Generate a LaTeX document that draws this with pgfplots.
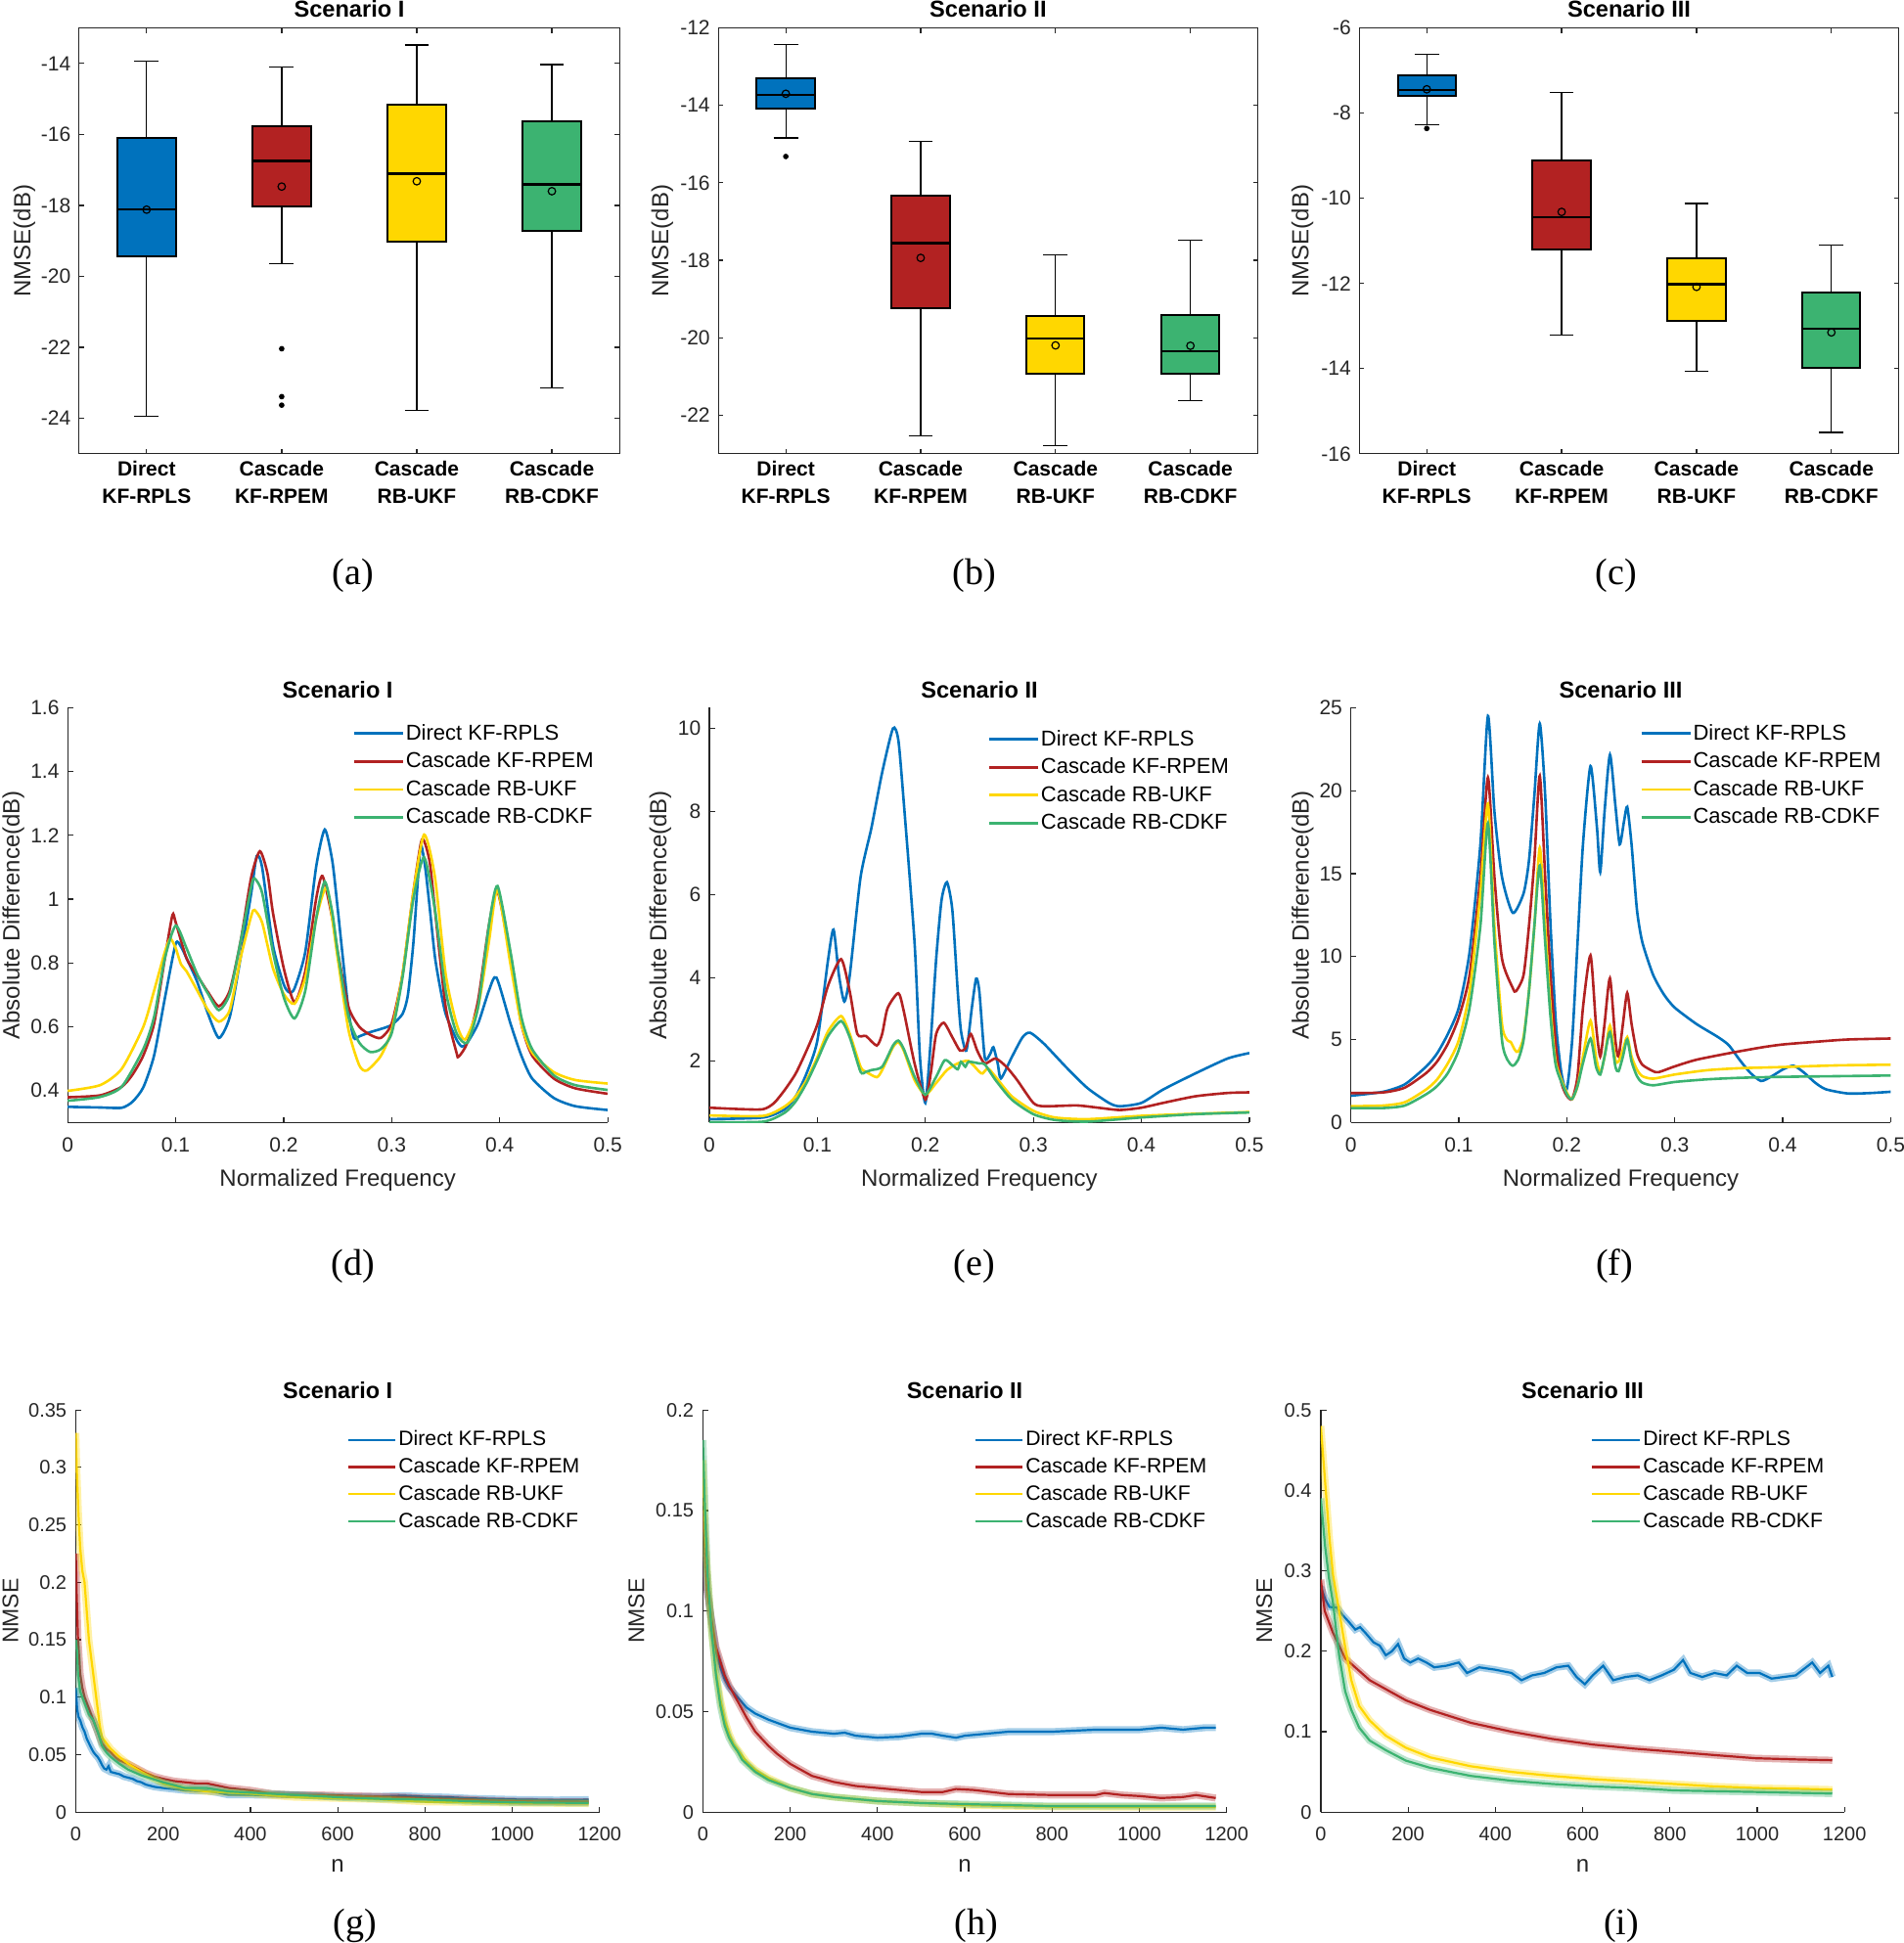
\documentclass[border=0pt]{standalone}
\usepackage{pgfplots}
\pgfplotsset{compat=1.18}
\usepgfplotslibrary{statistics}
\usepackage{fontspec}
\setmainfont{Liberation Sans}
\newfontfamily\timesfont{Liberation Serif}
\definecolor{cblue}{RGB}{0,114,189}
\definecolor{cred}{RGB}{178,34,34}
\definecolor{cyel}{RGB}{255,215,0}
\definecolor{cgrn}{RGB}{60,179,113}
\definecolor{axgray}{RGB}{38,38,38}
\pgfplotsset{
 common/.style={scale only axis, anchor=south west, tick align=inside, scaled ticks=false,
   every axis title shift=0pt,
   axis line style={draw=axgray, line width=0.6pt},
   every tick/.style={draw=axgray, line width=0.6pt},
   tick label style={text=axgray}},
 boxax/.style={common, boxplot/draw direction=y, height=217.6pt, xmin=0.5, xmax=4.5, xtick={1,2,3,4},
   xticklabels={{Direct\\KF-RPLS},{Cascade\\KF-RPEM},{Cascade\\RB-UKF},{Cascade\\RB-CDKF}},
   tick pos=both, major tick length=2.5pt,
   xticklabel style={font=\bfseries\fontsize{10.5}{13.8}\selectfont, align=center, anchor=north, inner sep=0pt, yshift=-3.5pt, text=black},
   yticklabel style={font=\fontsize{10.5}{12}\selectfont, anchor=east, inner sep=0pt, xshift=-4.1pt},
   title style={at={(axis description cs:0.5,1)}, anchor=base, yshift=5.7pt, font=\bfseries\fontsize{11.8}{14}\selectfont},
   ylabel={NMSE(dB)}, ylabel style={font=\fontsize{12}{14}\selectfont, text=axgray}},
 bx/.style={draw=black, line width=0.6pt,
   boxplot/every box/.style={draw=black, fill=#1, line width=1pt},
   boxplot/every median/.style={draw=black, line width=1.2pt},
   boxplot/every whisker/.style={draw=black, line width=0.6pt},
   mark=*, mark size=1.1pt, mark options={fill=black, draw=black}},
 meanm/.style={only marks, mark=o, mark size=1.9pt, mark options={draw=black, line width=0.6pt}},
 lineax/.style={common, width=275.95pt, height=212pt,
   axis x line*=bottom, axis y line*=left, axis line style={-},
   xmin=0, xmax=0.5, xtick={0,0.1,0.2,0.3,0.4,0.5}, xticklabels={0,0.1,0.2,0.3,0.4,0.5},
   major tick length=2.8pt,
   xticklabel style={font=\fontsize{10.5}{12}\selectfont, anchor=base, inner sep=0pt, yshift=-15pt},
   yticklabel style={font=\fontsize{10.5}{12}\selectfont, anchor=east, inner sep=0pt, xshift=-4.15pt},
   title style={at={(axis description cs:0.5,1)}, anchor=base, yshift=5pt, font=\bfseries\fontsize{11.8}{14}\selectfont},
   xlabel={Normalized Frequency},
   xlabel style={at={(axis description cs:0.5,0)}, anchor=base, yshift=-32.4pt, font=\fontsize{12}{14}\selectfont, text=axgray},
   ylabel={Absolute Difference(dB)}, ylabel style={font=\fontsize{12}{14}\selectfont, text=axgray},
   legend cell align=left,
   legend image code/.code={\draw[##1] (0pt,0pt) -- (25pt,0pt);},
   legend style={anchor=north west, draw=none, fill=none, inner sep=0pt, outer sep=0pt, row sep=4.8pt,
     font=\fontsize{11}{13}\selectfont, nodes={inner sep=0pt},
     /tikz/every odd column/.append style={column sep=0.8pt}}},
 ln/.style={#1, line width=1.3pt, smooth, tension=0.4},
 nmax/.style={common, width=267.65pt, height=205.55pt,
   axis x line*=bottom, axis y line*=left, axis line style={-},
   xmin=0, xmax=1200, xtick={0,200,400,600,800,1000,1200}, xticklabels={0,200,400,600,800,1000,1200},
   major tick length=2.8pt,
   xticklabel style={font=\fontsize{10}{12}\selectfont, anchor=base, inner sep=0pt, yshift=-14.6pt},
   yticklabel style={font=\fontsize{10}{12}\selectfont, anchor=east, inner sep=0pt, xshift=-4.5pt},
   title style={at={(axis description cs:0.5,1)}, anchor=base, yshift=5.6pt, font=\bfseries\fontsize{11.7}{14}\selectfont},
   xlabel={n},
   xlabel style={at={(axis description cs:0.5,0)}, anchor=base, yshift=-30.8pt, font=\fontsize{12}{14}\selectfont, text=axgray},
   ylabel={NMSE}, ylabel style={font=\fontsize{11.5}{14}\selectfont, text=axgray},
   legend cell align=left,
   legend image code/.code={\draw[##1] (0pt,0pt) -- (24.25pt,0pt);},
   legend style={anchor=north west, draw=none, fill=none, inner sep=0pt, outer sep=0pt, row sep=4.7pt,
     font=\fontsize{10.6}{13}\selectfont, nodes={inner sep=0pt},
     /tikz/every odd column/.append style={column sep=1.1pt}}},
 band/.style={#1, line width=3.6pt, draw opacity=0.35, forget plot},
 nl/.style={#1, line width=1.1pt},
}
\begin{document}
\begin{tikzpicture}
\useasboundingbox (0,0) rectangle (973pt,-993pt);

% ---------------- (a)
\begin{axis}[boxax, at={(40.4pt,-231.9pt)}, width=276.15pt, ymin=-25, ymax=-13,
  ytick={-24,-22,-20,-18,-16,-14}, yticklabels={-24,-22,-20,-18,-16,-14},
  title={Scenario I}, ylabel style={at={(axis description cs:-0.090,0.5)}, anchor=base}]
\addplot[bx=cblue, boxplot prepared={lower whisker=-23.95, lower quartile=-19.43, median=-18.12, upper quartile=-16.10, upper whisker=-13.94, draw position=1, box extend=0.43, whisker extend=0.18}] coordinates {};
\addplot[bx=cred, boxplot prepared={lower whisker=-19.65, lower quartile=-18.04, median=-16.75, upper quartile=-15.78, upper whisker=-14.10, draw position=2, box extend=0.43, whisker extend=0.18}] coordinates {(2,-22.04) (2,-23.39) (2,-23.63)};
\addplot[bx=cyel, boxplot prepared={lower whisker=-23.78, lower quartile=-19.03, median=-17.11, upper quartile=-15.16, upper whisker=-13.48, draw position=3, box extend=0.43, whisker extend=0.18}] coordinates {};
\addplot[bx=cgrn, boxplot prepared={lower whisker=-23.14, lower quartile=-18.71, median=-17.41, upper quartile=-15.62, upper whisker=-14.03, draw position=4, box extend=0.43, whisker extend=0.18}] coordinates {};
\addplot[meanm] coordinates {(1,-18.12) (2,-17.47) (3,-17.32) (4,-17.60)};
\end{axis}

% ---------------- (b)
\begin{axis}[boxax, at={(367.1pt,-231.9pt)}, width=275.7pt, ymin=-23, ymax=-12,
  ytick={-22,-20,-18,-16,-14,-12}, yticklabels={-22,-20,-18,-16,-14,-12},
  title={Scenario II}, ylabel style={at={(axis description cs:-0.0925,0.5)}, anchor=base}]
\addplot[bx=cblue, boxplot prepared={lower whisker=-14.84, lower quartile=-14.08, median=-13.73, upper quartile=-13.29, upper whisker=-12.42, draw position=1, box extend=0.43, whisker extend=0.18}] coordinates {(1,-15.32)};
\addplot[bx=cred, boxplot prepared={lower whisker=-22.53, lower quartile=-19.24, median=-17.56, upper quartile=-16.34, upper whisker=-14.92, draw position=2, box extend=0.43, whisker extend=0.18}] coordinates {};
\addplot[bx=cyel, boxplot prepared={lower whisker=-22.78, lower quartile=-20.92, median=-20.02, upper quartile=-19.43, upper whisker=-17.87, draw position=3, box extend=0.43, whisker extend=0.18}] coordinates {};
\addplot[bx=cgrn, boxplot prepared={lower whisker=-21.62, lower quartile=-20.94, median=-20.35, upper quartile=-19.42, upper whisker=-17.49, draw position=4, box extend=0.43, whisker extend=0.18}] coordinates {};
\addplot[meanm] coordinates {(1,-13.70) (2,-17.94) (3,-20.20) (4,-20.21)};
\end{axis}

% ---------------- (c)
\begin{axis}[boxax, at={(694.65pt,-231.9pt)}, width=275.7pt, ymin=-16, ymax=-6,
  ytick={-16,-14,-12,-10,-8,-6}, yticklabels={-16,-14,-12,-10,-8,-6},
  title={Scenario III}, ylabel style={at={(axis description cs:-0.094,0.5)}, anchor=base}]
\addplot[bx=cblue, boxplot prepared={lower whisker=-8.27, lower quartile=-7.60, median=-7.45, upper quartile=-7.12, upper whisker=-6.61, draw position=1, box extend=0.43, whisker extend=0.18}] coordinates {(1,-8.36)};
\addplot[bx=cred, boxplot prepared={lower whisker=-13.22, lower quartile=-11.21, median=-10.45, upper quartile=-9.12, upper whisker=-7.52, draw position=2, box extend=0.43, whisker extend=0.18}] coordinates {};
\addplot[bx=cyel, boxplot prepared={lower whisker=-14.06, lower quartile=-12.87, median=-12.02, upper quartile=-11.41, upper whisker=-10.12, draw position=3, box extend=0.43, whisker extend=0.18}] coordinates {};
\addplot[bx=cgrn, boxplot prepared={lower whisker=-15.50, lower quartile=-13.98, median=-13.06, upper quartile=-12.21, upper whisker=-11.09, draw position=4, box extend=0.43, whisker extend=0.18}] coordinates {};
\addplot[meanm] coordinates {(1,-7.44) (2,-10.32) (3,-12.08) (4,-13.15)};
\end{axis}

% ---------------- (d)
\begin{axis}[lineax, at={(34.6pt,-573.65pt)}, ymin=0.3, ymax=1.6,
  ytick={0.4,0.6,0.8,1,1.2,1.4,1.6}, yticklabels={0.4,0.6,0.8,1,1.2,1.4,1.6},
  title={Scenario I}, ylabel style={at={(axis description cs:-0.0893,0.5)}, anchor=base},
  legend style={at={(axis description cs:0.528,0.960)}}]
\addplot[ln=cblue] coordinates {(0,0.349)(0.03,0.347)(0.05,0.346)(0.06,0.365)(0.07,0.41)(0.08,0.51)(0.09,0.69)(0.1,0.86)(0.105,0.85)(0.11,0.815)(0.12,0.74)(0.13,0.64)(0.14,0.565)(0.15,0.63)(0.16,0.815)(0.17,1.02)(0.175,1.135)(0.18,1.10)(0.19,0.856)(0.2,0.733)(0.205,0.708)(0.21,0.72)(0.22,0.835)(0.23,1.10)(0.238,1.218)(0.245,1.12)(0.25,0.97)(0.26,0.652)(0.265,0.565)(0.27,0.57)(0.28,0.583)(0.29,0.593)(0.3,0.606)(0.31,0.64)(0.315,0.70)(0.32,0.86)(0.324,1.05)(0.327,1.17)(0.331,1.10)(0.335,0.98)(0.34,0.82)(0.345,0.72)(0.35,0.64)(0.36,0.56)(0.365,0.538)(0.37,0.55)(0.38,0.61)(0.39,0.713)(0.397,0.754)(0.41,0.61)(0.42,0.51)(0.43,0.438)(0.45,0.377)(0.47,0.351)(0.5,0.339)};
\addlegendentry{Direct KF-RPLS}
\addplot[ln=cred] coordinates {(0,0.379)(0.03,0.385)(0.05,0.412)(0.06,0.45)(0.07,0.51)(0.08,0.61)(0.09,0.815)(0.097,0.95)(0.1,0.927)(0.11,0.815)(0.12,0.76)(0.13,0.708)(0.14,0.664)(0.15,0.713)(0.16,0.866)(0.17,1.07)(0.178,1.15)(0.185,1.08)(0.19,0.958)(0.2,0.784)(0.21,0.677)(0.22,0.774)(0.23,1.0)(0.236,1.072)(0.245,0.94)(0.25,0.835)(0.26,0.662)(0.27,0.6)(0.28,0.575)(0.29,0.565)(0.3,0.61)(0.31,0.764)(0.32,1.02)(0.328,1.187)(0.335,1.12)(0.34,0.968)(0.35,0.662)(0.36,0.519)(0.362,0.506)(0.37,0.55)(0.38,0.683)(0.39,0.917)(0.398,1.024)(0.41,0.815)(0.42,0.61)(0.43,0.51)(0.45,0.438)(0.47,0.407)(0.5,0.39)};
\addlegendentry{Cascade KF-RPEM}
\addplot[ln=cyel] coordinates {(0,0.399)(0.03,0.417)(0.05,0.468)(0.07,0.6)(0.08,0.713)(0.09,0.835)(0.095,0.876)(0.1,0.846)(0.105,0.795)(0.11,0.774)(0.12,0.713)(0.13,0.652)(0.14,0.616)(0.15,0.652)(0.16,0.815)(0.17,0.948)(0.173,0.966)(0.18,0.927)(0.19,0.784)(0.2,0.703)(0.21,0.672)(0.22,0.754)(0.23,0.937)(0.24,1.034)(0.25,0.815)(0.26,0.59)(0.27,0.479)(0.277,0.463)(0.29,0.509)(0.3,0.59)(0.31,0.764)(0.32,1.02)(0.33,1.202)(0.34,1.07)(0.35,0.764)(0.36,0.61)(0.368,0.56)(0.38,0.662)(0.39,0.866)(0.398,1.03)(0.41,0.795)(0.42,0.61)(0.43,0.519)(0.45,0.458)(0.47,0.433)(0.5,0.422)};
\addlegendentry{Cascade RB-UKF}
\addplot[ln=cgrn] coordinates {(0,0.368)(0.03,0.38)(0.05,0.412)(0.07,0.53)(0.08,0.631)(0.09,0.815)(0.1,0.917)(0.11,0.846)(0.12,0.764)(0.13,0.703)(0.14,0.652)(0.15,0.703)(0.16,0.866)(0.17,1.04)(0.173,1.065)(0.18,1.02)(0.19,0.835)(0.2,0.693)(0.21,0.626)(0.22,0.713)(0.23,0.937)(0.238,1.055)(0.245,0.958)(0.25,0.835)(0.26,0.631)(0.27,0.55)(0.28,0.521)(0.29,0.53)(0.3,0.58)(0.31,0.754)(0.32,0.999)(0.33,1.131)(0.34,0.968)(0.35,0.713)(0.36,0.58)(0.37,0.55)(0.38,0.662)(0.39,0.917)(0.398,1.041)(0.41,0.835)(0.42,0.631)(0.43,0.53)(0.45,0.448)(0.47,0.417)(0.5,0.402)};
\addlegendentry{Cascade RB-CDKF}
\end{axis}

% ---------------- (e)
\begin{axis}[lineax, at={(362.5pt,-573.65pt)}, ymin=0.52, ymax=10.5,
  ytick={2,4,6,8,10}, yticklabels={2,4,6,8,10},
  title={Scenario II}, ylabel style={at={(axis description cs:-0.0795,0.5)}, anchor=base},
  legend style={at={(axis description cs:0.516,0.946)}}]
\addplot[ln=cblue] coordinates {(0,0.6)(0.05,0.64)(0.07,0.84)(0.08,1.15)(0.09,1.7)(0.1,2.49)(0.11,4.45)(0.115,5.16)(0.12,4.06)(0.125,3.43)(0.13,4.06)(0.14,6.42)(0.15,7.6)(0.16,8.94)(0.17,10.0)(0.175,9.72)(0.18,8.23)(0.19,4.85)(0.195,2.09)(0.2,0.99)(0.205,2.49)(0.21,4.45)(0.215,5.87)(0.22,6.3)(0.225,5.63)(0.23,3.67)(0.233,2.72)(0.238,2.25)(0.243,3.27)(0.247,3.98)(0.25,3.67)(0.255,2.09)(0.26,2.17)(0.263,2.33)(0.267,1.94)(0.27,1.58)(0.28,2.09)(0.29,2.57)(0.297,2.68)(0.31,2.41)(0.33,1.86)(0.35,1.35)(0.37,0.99)(0.38,0.91)(0.4,0.99)(0.42,1.31)(0.45,1.7)(0.48,2.06)(0.5,2.19)};
\addlegendentry{Direct KF-RPLS}
\addplot[ln=cred] coordinates {(0,0.875)(0.03,0.84)(0.05,0.84)(0.06,0.99)(0.07,1.31)(0.08,1.7)(0.09,2.25)(0.1,2.88)(0.11,3.82)(0.122,4.45)(0.13,3.67)(0.137,2.65)(0.145,2.6)(0.155,2.37)(0.16,2.65)(0.165,3.27)(0.175,3.63)(0.18,3.2)(0.19,1.94)(0.2,1.07)(0.205,1.7)(0.21,2.65)(0.217,2.92)(0.225,2.57)(0.232,2.25)(0.237,2.3)(0.242,2.65)(0.248,2.25)(0.255,1.94)(0.265,2.06)(0.275,1.86)(0.285,1.54)(0.3,0.99)(0.31,0.91)(0.34,0.93)(0.36,0.875)(0.38,0.82)(0.4,0.875)(0.42,0.99)(0.45,1.15)(0.48,1.23)(0.5,1.245)};
\addlegendentry{Cascade KF-RPEM}
\addplot[ln=cyel] coordinates {(0,0.69)(0.05,0.68)(0.07,0.91)(0.08,1.15)(0.09,1.54)(0.1,2.09)(0.11,2.72)(0.122,3.08)(0.13,2.65)(0.14,1.86)(0.145,1.74)(0.155,1.61)(0.16,1.78)(0.17,2.33)(0.175,2.45)(0.18,2.25)(0.19,1.54)(0.2,1.19)(0.21,1.47)(0.22,1.78)(0.23,1.94)(0.24,2.0)(0.25,1.74)(0.253,1.7)(0.258,1.82)(0.265,1.62)(0.28,1.15)(0.3,0.8)(0.32,0.64)(0.35,0.6)(0.4,0.68)(0.45,0.73)(0.5,0.77)};
\addlegendentry{Cascade RB-UKF}
\addplot[ln=cgrn] coordinates {(0,0.53)(0.05,0.54)(0.07,0.76)(0.08,1.03)(0.09,1.47)(0.1,2.02)(0.11,2.6)(0.122,2.96)(0.13,2.57)(0.14,1.74)(0.145,1.74)(0.15,1.78)(0.16,1.86)(0.17,2.37)(0.175,2.49)(0.18,2.29)(0.19,1.62)(0.2,1.19)(0.21,1.62)(0.218,2.02)(0.225,1.9)(0.23,1.8)(0.233,1.98)(0.237,1.86)(0.24,1.98)(0.25,1.94)(0.255,1.92)(0.265,1.54)(0.28,1.07)(0.3,0.72)(0.32,0.58)(0.35,0.54)(0.4,0.64)(0.45,0.72)(0.5,0.76)};
\addlegendentry{Cascade RB-CDKF}
\end{axis}

% ---------------- (f)
\begin{axis}[lineax, at={(690.3pt,-573.65pt)}, width=275.9pt, ymin=0, ymax=25,
  ytick={0,5,10,15,20,25}, yticklabels={0,5,10,15,20,25},
  title={Scenario III}, ylabel style={at={(axis description cs:-0.078,0.5)}, anchor=base},
  legend style={at={(axis description cs:0.536,0.960)}}]
\addplot[ln=cblue] coordinates {(0,1.61)(0.03,1.85)(0.05,2.3)(0.07,3.38)(0.08,4.17)(0.09,5.35)(0.1,6.92)(0.11,10.27)(0.12,16.76)(0.127,24.5)(0.133,18.73)(0.14,14.79)(0.15,12.63)(0.16,13.81)(0.165,15.78)(0.17,19.71)(0.175,24.04)(0.18,19.71)(0.185,11.84)(0.19,5.94)(0.195,2.99)(0.2,2.0)(0.205,4.96)(0.21,10.86)(0.215,16.76)(0.222,21.48)(0.228,17.74)(0.231,15.09)(0.235,18.73)(0.24,22.17)(0.245,19.12)(0.249,16.76)(0.253,18.14)(0.256,19.02)(0.26,16.76)(0.265,12.82)(0.27,10.86)(0.28,8.89)(0.29,7.71)(0.3,6.92)(0.32,5.94)(0.34,5.15)(0.35,4.66)(0.36,3.78)(0.37,2.99)(0.38,2.5)(0.39,2.79)(0.4,3.19)(0.41,3.42)(0.42,2.99)(0.43,2.4)(0.44,2.0)(0.46,1.75)(0.48,1.77)(0.5,1.85)};
\addlegendentry{Direct KF-RPLS}
\addplot[ln=cred] coordinates {(0,1.77)(0.03,1.81)(0.05,2.1)(0.07,2.99)(0.08,3.68)(0.09,4.76)(0.1,6.33)(0.11,8.89)(0.12,14.79)(0.127,20.79)(0.133,14.79)(0.14,9.87)(0.15,8.1)(0.153,7.91)(0.16,8.89)(0.165,11.84)(0.17,15.78)(0.175,20.89)(0.18,14.79)(0.185,8.89)(0.19,4.56)(0.195,2.4)(0.2,1.61)(0.205,1.42)(0.21,2.79)(0.215,6.92)(0.222,10.07)(0.227,5.94)(0.231,3.97)(0.235,5.94)(0.24,8.69)(0.245,4.96)(0.248,3.97)(0.252,5.94)(0.256,7.81)(0.26,5.94)(0.265,4.17)(0.27,3.48)(0.28,3.09)(0.285,3.03)(0.3,3.38)(0.32,3.78)(0.35,4.17)(0.38,4.52)(0.4,4.7)(0.43,4.86)(0.46,5.0)(0.5,5.06)};
\addlegendentry{Cascade KF-RPEM}
\addplot[ln=cyel] coordinates {(0,0.98)(0.03,1.02)(0.05,1.22)(0.07,2.0)(0.08,2.6)(0.09,3.58)(0.1,4.96)(0.11,7.91)(0.12,13.81)(0.127,19.22)(0.133,11.84)(0.14,5.94)(0.145,4.96)(0.148,4.86)(0.152,4.37)(0.155,4.27)(0.16,5.15)(0.165,7.91)(0.17,11.84)(0.175,16.56)(0.18,11.84)(0.185,6.92)(0.19,3.58)(0.2,1.81)(0.205,1.42)(0.21,2.2)(0.215,3.97)(0.222,6.14)(0.227,3.97)(0.231,2.99)(0.235,3.97)(0.24,5.84)(0.245,3.78)(0.248,3.68)(0.252,4.37)(0.256,5.15)(0.26,3.97)(0.265,3.19)(0.27,2.79)(0.28,2.64)(0.3,2.89)(0.33,3.15)(0.36,3.27)(0.4,3.34)(0.45,3.44)(0.5,3.48)};
\addlegendentry{Cascade RB-UKF}
\addplot[ln=cgrn] coordinates {(0,0.87)(0.03,0.87)(0.05,1.02)(0.07,1.71)(0.08,2.2)(0.09,2.99)(0.1,4.37)(0.11,6.92)(0.12,11.84)(0.127,18.04)(0.133,10.86)(0.14,4.96)(0.145,3.78)(0.15,3.42)(0.155,3.78)(0.16,4.96)(0.165,7.91)(0.17,11.84)(0.175,15.48)(0.18,10.86)(0.185,6.33)(0.19,3.38)(0.2,1.71)(0.205,1.42)(0.21,2.2)(0.215,3.58)(0.222,5.06)(0.227,3.38)(0.231,2.89)(0.235,3.97)(0.24,5.45)(0.245,3.38)(0.248,3.09)(0.252,3.97)(0.256,5.0)(0.26,3.68)(0.265,2.79)(0.27,2.4)(0.28,2.24)(0.3,2.44)(0.33,2.6)(0.36,2.69)(0.4,2.75)(0.45,2.79)(0.5,2.83)};
\addlegendentry{Cascade RB-CDKF}
\end{axis}

% ---------------- (g)
\begin{axis}[nmax, at={(38.75pt,-926.1pt)}, ymin=0, ymax=0.35,
  ytick={0,0.05,0.1,0.15,0.2,0.25,0.3,0.35}, yticklabels={0,0.05,0.1,0.15,0.2,0.25,0.3,0.35},
  title={Scenario I}, ylabel style={at={(axis description cs:-0.110,0.5)}, anchor=base},
  legend style={at={(axis description cs:0.5175,0.948)}}]
\addplot[band=cblue] coordinates {(0,0.108)(3,0.09)(6,0.083)(10,0.08)(15,0.074)(20,0.07)(25,0.064)(30,0.06)(35,0.056)(40,0.0525)(45,0.05)(50,0.048)(55,0.045)(60,0.041)(65,0.038)(70,0.037)(75,0.040)(80,0.035)(90,0.034)(100,0.033)(110,0.031)(120,0.030)(130,0.029)(140,0.027)(150,0.026)(160,0.024)(170,0.023)(180,0.022)(200,0.021)(225,0.020)(250,0.019)(275,0.0185)(300,0.0185)(325,0.017)(350,0.015)(375,0.015)(400,0.015)(450,0.0148)(500,0.015)(550,0.0142)(600,0.0134)(650,0.0135)(700,0.0137)(750,0.0143)(800,0.0134)(850,0.013)(900,0.012)(950,0.0115)(1000,0.011)(1050,0.0108)(1100,0.0105)(1175,0.0108)};
\addplot[nl=cblue] coordinates {(0,0.108)(3,0.09)(6,0.083)(10,0.08)(15,0.074)(20,0.07)(25,0.064)(30,0.06)(35,0.056)(40,0.0525)(45,0.05)(50,0.048)(55,0.045)(60,0.041)(65,0.038)(70,0.037)(75,0.040)(80,0.035)(90,0.034)(100,0.033)(110,0.031)(120,0.030)(130,0.029)(140,0.027)(150,0.026)(160,0.024)(170,0.023)(180,0.022)(200,0.021)(225,0.020)(250,0.019)(275,0.0185)(300,0.0185)(325,0.017)(350,0.015)(375,0.015)(400,0.015)(450,0.0148)(500,0.015)(550,0.0142)(600,0.0134)(650,0.0135)(700,0.0137)(750,0.0143)(800,0.0134)(850,0.013)(900,0.012)(950,0.0115)(1000,0.011)(1050,0.0108)(1100,0.0105)(1175,0.0108)};
\addlegendentry{Direct KF-RPLS}
\addplot[band=cred] coordinates {(0,0.225)(2,0.19)(5,0.15)(10,0.12)(15,0.108)(20,0.10)(30,0.09)(40,0.08)(50,0.07)(60,0.06)(70,0.055)(80,0.052)(90,0.048)(100,0.045)(120,0.042)(140,0.038)(160,0.034)(180,0.031)(200,0.029)(225,0.027)(250,0.026)(275,0.025)(300,0.025)(325,0.023)(350,0.021)(375,0.020)(400,0.019)(450,0.016)(500,0.015)(550,0.015)(600,0.0145)(650,0.014)(700,0.0135)(750,0.013)(800,0.012)(850,0.0115)(900,0.011)(950,0.010)(1000,0.0095)(1100,0.009)(1175,0.009)};
\addplot[nl=cred] coordinates {(0,0.225)(2,0.19)(5,0.15)(10,0.12)(15,0.108)(20,0.10)(30,0.09)(40,0.08)(50,0.07)(60,0.06)(70,0.055)(80,0.052)(90,0.048)(100,0.045)(120,0.042)(140,0.038)(160,0.034)(180,0.031)(200,0.029)(225,0.027)(250,0.026)(275,0.025)(300,0.025)(325,0.023)(350,0.021)(375,0.020)(400,0.019)(450,0.016)(500,0.015)(550,0.015)(600,0.0145)(650,0.014)(700,0.0135)(750,0.013)(800,0.012)(850,0.0115)(900,0.011)(950,0.010)(1000,0.0095)(1100,0.009)(1175,0.009)};
\addlegendentry{Cascade KF-RPEM}
\addplot[band=cyel] coordinates {(0,0.33)(2,0.30)(4,0.28)(6,0.26)(10,0.23)(15,0.21)(20,0.20)(25,0.175)(30,0.15)(35,0.135)(40,0.12)(45,0.105)(50,0.09)(55,0.075)(60,0.065)(70,0.06)(80,0.055)(100,0.048)(120,0.042)(150,0.035)(175,0.03)(200,0.025)(250,0.02)(300,0.018)(350,0.017)(400,0.016)(500,0.013)(600,0.012)(700,0.011)(800,0.009)(900,0.0085)(1000,0.008)(1175,0.0075)};
\addplot[nl=cyel] coordinates {(0,0.33)(2,0.30)(4,0.28)(6,0.26)(10,0.23)(15,0.21)(20,0.20)(25,0.175)(30,0.15)(35,0.135)(40,0.12)(45,0.105)(50,0.09)(55,0.075)(60,0.065)(70,0.06)(80,0.055)(100,0.048)(120,0.042)(150,0.035)(175,0.03)(200,0.025)(250,0.02)(300,0.018)(350,0.017)(400,0.016)(500,0.013)(600,0.012)(700,0.011)(800,0.009)(900,0.0085)(1000,0.008)(1175,0.0075)};
\addlegendentry{Cascade RB-UKF}
\addplot[band=cgrn] coordinates {(0,0.15)(3,0.14)(5,0.12)(10,0.105)(20,0.095)(30,0.085)(40,0.08)(50,0.07)(60,0.058)(70,0.052)(80,0.048)(100,0.042)(120,0.037)(150,0.032)(175,0.029)(200,0.026)(250,0.021)(300,0.021)(350,0.018)(400,0.017)(500,0.015)(600,0.013)(700,0.0115)(800,0.011)(900,0.0095)(1000,0.0085)(1175,0.008)};
\addplot[nl=cgrn] coordinates {(0,0.15)(3,0.14)(5,0.12)(10,0.105)(20,0.095)(30,0.085)(40,0.08)(50,0.07)(60,0.058)(70,0.052)(80,0.048)(100,0.042)(120,0.037)(150,0.032)(175,0.029)(200,0.026)(250,0.021)(300,0.021)(350,0.018)(400,0.017)(500,0.015)(600,0.013)(700,0.0115)(800,0.011)(900,0.0095)(1000,0.0085)(1175,0.008)};
\addlegendentry{Cascade RB-CDKF}
\end{axis}

% ---------------- (h)
\begin{axis}[nmax, at={(359.2pt,-926.1pt)}, ymin=0, ymax=0.2,
  ytick={0,0.05,0.1,0.15,0.2}, yticklabels={0,0.05,0.1,0.15,0.2},
  title={Scenario II}, ylabel style={at={(axis description cs:-0.112,0.5)}, anchor=base},
  legend style={at={(axis description cs:0.5175,0.948)}}]
\addplot[band=cblue] coordinates {(0,0.15)(5,0.13)(10,0.11)(20,0.095)(30,0.08)(40,0.072)(50,0.066)(60,0.062)(80,0.057)(100,0.052)(120,0.049)(150,0.046)(175,0.044)(200,0.042)(250,0.040)(300,0.039)(325,0.0395)(350,0.038)(400,0.037)(450,0.0375)(500,0.039)(525,0.039)(550,0.038)(580,0.037)(600,0.038)(650,0.039)(700,0.040)(750,0.040)(800,0.040)(850,0.0405)(900,0.041)(950,0.041)(1000,0.041)(1050,0.042)(1100,0.041)(1150,0.042)(1175,0.042)};
\addplot[nl=cblue] coordinates {(0,0.15)(5,0.13)(10,0.11)(20,0.095)(30,0.08)(40,0.072)(50,0.066)(60,0.062)(80,0.057)(100,0.052)(120,0.049)(150,0.046)(175,0.044)(200,0.042)(250,0.040)(300,0.039)(325,0.0395)(350,0.038)(400,0.037)(450,0.0375)(500,0.039)(525,0.039)(550,0.038)(580,0.037)(600,0.038)(650,0.039)(700,0.040)(750,0.040)(800,0.040)(850,0.0405)(900,0.041)(950,0.041)(1000,0.041)(1050,0.042)(1100,0.041)(1150,0.042)(1175,0.042)};
\addlegendentry{Direct KF-RPLS}
\addplot[band=cred] coordinates {(0,0.15)(5,0.13)(10,0.11)(20,0.095)(30,0.082)(40,0.075)(50,0.068)(60,0.063)(80,0.055)(100,0.047)(120,0.04)(150,0.033)(170,0.029)(200,0.024)(250,0.018)(300,0.015)(350,0.013)(400,0.012)(450,0.011)(500,0.010)(550,0.010)(580,0.0115)(620,0.011)(700,0.009)(800,0.0085)(900,0.0085)(920,0.0095)(960,0.0085)(1000,0.008)(1050,0.007)(1100,0.0075)(1130,0.0085)(1175,0.007)};
\addplot[nl=cred] coordinates {(0,0.15)(5,0.13)(10,0.11)(20,0.095)(30,0.082)(40,0.075)(50,0.068)(60,0.063)(80,0.055)(100,0.047)(120,0.04)(150,0.033)(170,0.029)(200,0.024)(250,0.018)(300,0.015)(350,0.013)(400,0.012)(450,0.011)(500,0.010)(550,0.010)(580,0.0115)(620,0.011)(700,0.009)(800,0.0085)(900,0.0085)(920,0.0095)(960,0.0085)(1000,0.008)(1050,0.007)(1100,0.0075)(1130,0.0085)(1175,0.007)};
\addlegendentry{Cascade KF-RPEM}
\addplot[band=cyel] coordinates {(0,0.175)(5,0.14)(10,0.12)(20,0.09)(30,0.07)(40,0.056)(50,0.046)(60,0.039)(70,0.034)(80,0.031)(100,0.025)(120,0.021)(150,0.017)(200,0.012)(250,0.009)(300,0.0075)(400,0.0055)(500,0.0045)(600,0.0035)(700,0.003)(800,0.0027)(1000,0.0025)(1175,0.0025)};
\addplot[nl=cyel] coordinates {(0,0.175)(5,0.14)(10,0.12)(20,0.09)(30,0.07)(40,0.056)(50,0.046)(60,0.039)(70,0.034)(80,0.031)(100,0.025)(120,0.021)(150,0.017)(200,0.012)(250,0.009)(300,0.0075)(400,0.0055)(500,0.0045)(600,0.0035)(700,0.003)(800,0.0027)(1000,0.0025)(1175,0.0025)};
\addlegendentry{Cascade RB-UKF}
\addplot[band=cgrn] coordinates {(0,0.185)(5,0.15)(10,0.12)(20,0.09)(30,0.068)(40,0.053)(50,0.043)(60,0.037)(70,0.033)(80,0.030)(90,0.026)(100,0.024)(120,0.02)(150,0.016)(200,0.012)(250,0.009)(300,0.0075)(400,0.0055)(500,0.0045)(600,0.004)(700,0.0035)(800,0.003)(1000,0.003)(1175,0.003)};
\addplot[nl=cgrn] coordinates {(0,0.185)(5,0.15)(10,0.12)(20,0.09)(30,0.068)(40,0.053)(50,0.043)(60,0.037)(70,0.033)(80,0.030)(90,0.026)(100,0.024)(120,0.02)(150,0.016)(200,0.012)(250,0.009)(300,0.0075)(400,0.0055)(500,0.0045)(600,0.004)(700,0.0035)(800,0.003)(1000,0.003)(1175,0.003)};
\addlegendentry{Cascade RB-CDKF}
\end{axis}

% ---------------- (i)
\begin{axis}[nmax, at={(674.95pt,-926.1pt)}, ymin=0, ymax=0.5,
  ytick={0,0.1,0.2,0.3,0.4,0.5}, yticklabels={0,0.1,0.2,0.3,0.4,0.5},
  title={Scenario III}, ylabel style={at={(axis description cs:-0.093,0.5)}, anchor=base},
  legend style={at={(axis description cs:0.5165,0.948)}}]
\addplot[band=cblue] coordinates {(0,0.28)(10,0.265)(20,0.255)(37,0.2545)(50,0.245)(65,0.236)(79,0.227)(90,0.23)(102,0.223)(121,0.211)(135,0.207)(149,0.195)(163,0.2)(177,0.209)(191,0.191)(205,0.186)(223,0.191)(242,0.186)(260,0.18)(288,0.182)(316,0.186)(335,0.173)(363,0.18)(400,0.177)(437,0.173)(460,0.164)(484,0.17)(512,0.173)(540,0.18)(567,0.182)(586,0.168)(605,0.159)(623,0.17)(647,0.182)(670,0.164)(698,0.168)(726,0.17)(753,0.164)(781,0.17)(809,0.177)(830,0.189)(847,0.173)(874,0.168)(902,0.173)(930,0.17)(953,0.182)(977,0.173)(1005,0.173)(1033,0.166)(1060,0.168)(1088,0.17)(1126,0.186)(1144,0.173)(1163,0.182)(1172,0.168)};
\addplot[nl=cblue] coordinates {(0,0.28)(10,0.265)(20,0.255)(37,0.2545)(50,0.245)(65,0.236)(79,0.227)(90,0.23)(102,0.223)(121,0.211)(135,0.207)(149,0.195)(163,0.2)(177,0.209)(191,0.191)(205,0.186)(223,0.191)(242,0.186)(260,0.18)(288,0.182)(316,0.186)(335,0.173)(363,0.18)(400,0.177)(437,0.173)(460,0.164)(484,0.17)(512,0.173)(540,0.18)(567,0.182)(586,0.168)(605,0.159)(623,0.17)(647,0.182)(670,0.164)(698,0.168)(726,0.17)(753,0.164)(781,0.17)(809,0.177)(830,0.189)(847,0.173)(874,0.168)(902,0.173)(930,0.17)(953,0.182)(977,0.173)(1005,0.173)(1033,0.166)(1060,0.168)(1088,0.17)(1126,0.186)(1144,0.173)(1163,0.182)(1172,0.168)};
\addlegendentry{Direct KF-RPLS}
\addplot[band=cred] coordinates {(0,0.289)(9,0.25)(28,0.223)(56,0.191)(112,0.164)(195,0.139)(251,0.127)(344,0.111)(437,0.1)(530,0.091)(623,0.084)(716,0.079)(809,0.075)(900,0.071)(995,0.067)(1090,0.0655)(1172,0.0645)};
\addplot[nl=cred] coordinates {(0,0.289)(9,0.25)(28,0.223)(56,0.191)(112,0.164)(195,0.139)(251,0.127)(344,0.111)(437,0.1)(530,0.091)(623,0.084)(716,0.079)(809,0.075)(900,0.071)(995,0.067)(1090,0.0655)(1172,0.0645)};
\addlegendentry{Cascade KF-RPEM}
\addplot[band=cyel] coordinates {(0,0.48)(10,0.41)(20,0.34)(28,0.295)(42,0.25)(56,0.205)(70,0.164)(88,0.132)(112,0.114)(149,0.095)(195,0.08)(251,0.068)(344,0.057)(437,0.05)(530,0.045)(623,0.041)(716,0.038)(809,0.035)(900,0.032)(1000,0.030)(1100,0.029)(1172,0.028)};
\addplot[nl=cyel] coordinates {(0,0.48)(10,0.41)(20,0.34)(28,0.295)(42,0.25)(56,0.205)(70,0.164)(88,0.132)(112,0.114)(149,0.095)(195,0.08)(251,0.068)(344,0.057)(437,0.05)(530,0.045)(623,0.041)(716,0.038)(809,0.035)(900,0.032)(1000,0.030)(1100,0.029)(1172,0.028)};
\addlegendentry{Cascade RB-UKF}
\addplot[band=cgrn] coordinates {(0,0.39)(10,0.33)(19,0.29)(28,0.26)(42,0.195)(56,0.15)(70,0.127)(88,0.105)(112,0.089)(149,0.077)(195,0.064)(251,0.055)(344,0.045)(437,0.039)(530,0.035)(623,0.032)(716,0.03)(809,0.027)(900,0.026)(1000,0.025)(1172,0.023)};
\addplot[nl=cgrn] coordinates {(0,0.39)(10,0.33)(19,0.29)(28,0.26)(42,0.195)(56,0.15)(70,0.127)(88,0.105)(112,0.089)(149,0.077)(195,0.064)(251,0.055)(344,0.045)(437,0.039)(530,0.035)(623,0.032)(716,0.03)(809,0.027)(900,0.026)(1000,0.025)(1172,0.023)};
\addlegendentry{Cascade RB-CDKF}
\end{axis}

% subfigure labels
\begin{scope}[every node/.style={font=\timesfont\fontsize{19}{22}\selectfont}]
\node at (180.5pt,-294pt) {(a)};
\node at (498pt,-294pt) {(b)};
\node at (826pt,-294pt) {(c)};
\node at (180.5pt,-647pt) {(d)};
\node at (498pt,-647pt) {(e)};
\node at (825pt,-647pt) {(f)};
\node at (181.5pt,-984pt) {(g)};
\node at (499pt,-984pt) {(h)};
\node at (828.5pt,-984pt) {(i)};
\end{scope}
\end{tikzpicture}
\end{document}
